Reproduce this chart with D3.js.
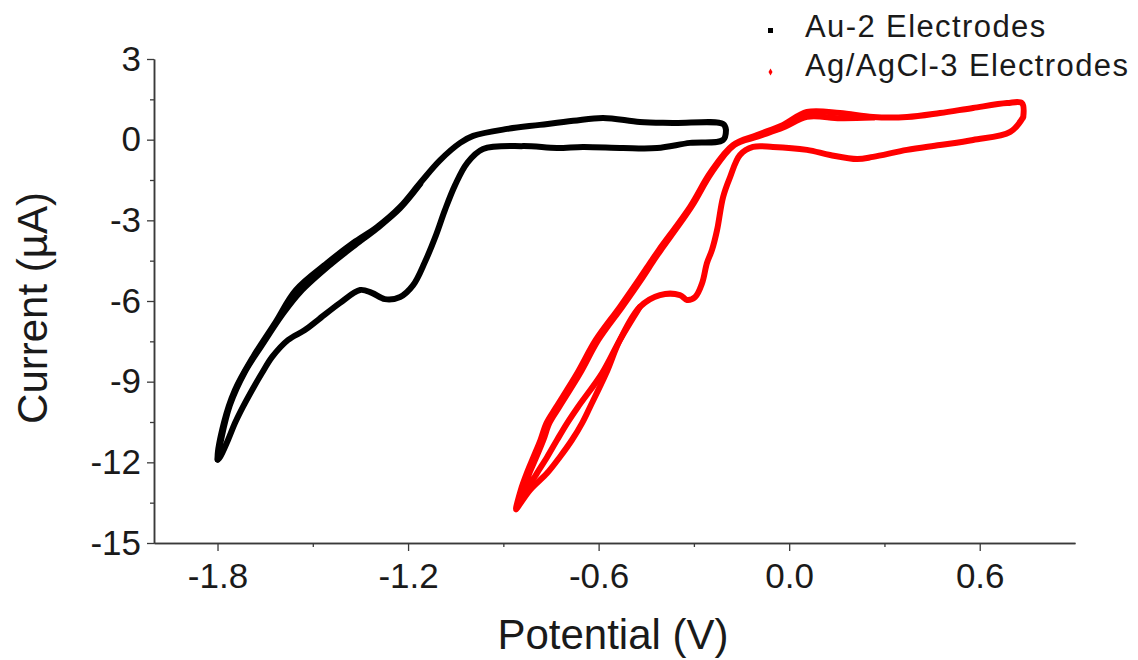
<!DOCTYPE html>
<html>
<head>
<meta charset="utf-8">
<script src="https://cdn.jsdelivr.net/npm/d3@7"></script>
<style>
  body { margin: 0; background: #fff; }
  svg { display: block; }
  text { font-family: "Liberation Sans", Arial, sans-serif; fill: #1a1a1a; }
</style>
</head>
<body>
<svg id="chart" width="1138" height="660"></svg>
<script>
// ---------------- data ----------------
const xTicks = [-1.8, -1.2, -0.6, 0.0, 0.6];
const xMinorTicks = [-1.5, -0.9, -0.3, 0.3];
const yTicks = [3, 0, -3, -6, -9, -12, -15];
const yMinorTicks = [1.5, -1.5, -4.5, -7.5, -10.5, -13.5];
const xDomain = [-2.0, 0.9];
const yDomain = [-15, 3];
const xTitle = "Potential (V)";
const yTitle = "Current (\u00B5A)";
const seriesNames = ["Au-2 Electrodes", "Ag/AgCl-3 Electrodes"];
const seriesColors = ["#000000", "#ff0000"];

// Au-2 electrodes, cycle 1 (potential V, current µA)
const au1V = [-0.199, -0.208, -0.312, -0.416, -0.523, -0.649, -0.731, -0.838, -0.964, -1.014, -1.052, -1.084, -1.112, -1.147, -1.184, -1.225, -1.273, -1.314, -1.351, -1.414, -1.484, -1.525, -1.578, -1.628, -1.660, -1.691, -1.720, -1.745, -1.767, -1.792, -1.800,
              -1.780, -1.745, -1.688, -1.619, -1.553, -1.455, -1.373, -1.298, -1.225, -1.162, -1.099, -1.036, -0.995, -0.888, -0.785, -0.680, -0.586, -0.470, -0.366, -0.208, -0.199];
const au1I = [0.36, -0.01, -0.12, -0.31, -0.31, -0.27, -0.31, -0.24, -0.35, -0.87, -1.69, -2.62, -3.55, -4.55, -5.41, -5.85, -5.93, -5.70, -5.59, -6.07, -6.71, -7.08, -7.45, -8.08, -8.68, -9.31, -9.94, -10.54, -11.17, -11.80, -11.90,
              -10.54, -9.31, -8.08, -6.82, -5.59, -4.59, -3.84, -3.25, -2.50, -1.61, -0.76, -0.12, 0.14, 0.40, 0.55, 0.70, 0.81, 0.66, 0.62, 0.58, 0.36];
// Au-2 electrodes, cycle 2 (overlapping return branch)
const au2V = [-1.800, -1.789, -1.761, -1.714, -1.660, -1.597, -1.540, -1.446, -1.367, -1.298, -1.225, -1.162];
const au2I = [-11.90, -11.17, -9.87, -8.64, -7.64, -6.52, -5.67, -4.66, -3.92, -3.30, -2.55, -1.65];

// Ag/AgCl-3 electrodes, cycle 1
const ag1V = [0.737, 0.696, 0.579, 0.475, 0.371, 0.264, 0.214, 0.129, 0.056, -0.051, -0.114, -0.155, -0.186, -0.208, -0.227, -0.243, -0.259, -0.274, -0.296, -0.322, -0.344, -0.407, -0.470, -0.533, -0.576, -0.627, -0.652, -0.684, -0.722, -0.762, -0.816, -0.854, -0.860,
              -0.845, -0.826, -0.805, -0.783, -0.764, -0.733, -0.667, -0.609, -0.533, -0.474, -0.432, -0.410, -0.312, -0.249, -0.177, -0.101, -0.019, 0.056, 0.160, 0.264, 0.371, 0.475, 0.579, 0.686, 0.733, 0.737];
const ag1I = [0.84, 0.29, -0.01, -0.20, -0.38, -0.64, -0.72, -0.57, -0.38, -0.27, -0.27, -0.57, -1.39, -2.13, -3.36, -4.10, -4.59, -5.33, -5.85, -5.96, -5.78, -5.78, -6.22, -7.45, -8.68, -9.94, -10.54, -11.17, -11.80, -12.40, -13.03, -13.66, -13.75,
              -13.03, -12.40, -11.80, -11.17, -10.54, -9.94, -8.68, -7.45, -6.22, -5.22, -4.48, -4.10, -2.50, -1.24, -0.20, 0.17, 0.55, 1.03, 0.99, 0.84, 0.84, 0.99, 1.18, 1.36, 1.36, 0.84];
// Ag/AgCl-3 electrodes, cycle 2
const ag2V = [-0.470, -0.533, -0.589, -0.665, -0.699, -0.731, -0.762, -0.794, -0.830, -0.850,
              -0.837, -0.818, -0.796, -0.774, -0.755, -0.724, -0.658, -0.601, -0.526, -0.467, -0.426, -0.404, -0.308, -0.245, -0.173, -0.098, -0.019, 0.056, 0.160, 0.264];
const ag2I = [-6.22, -7.45, -8.68, -9.94, -10.54, -11.17, -11.80, -12.40, -13.10, -13.55,
              -13.03, -12.40, -11.80, -11.17, -10.54, -9.94, -8.68, -7.45, -6.22, -5.22, -4.48, -4.10, -2.50, -1.24, -0.20, 0.12, 0.45, 0.85, 0.80, 0.82];

// ---------------- layout ----------------
const svg = d3.select("#chart");
const plot = { left: 154, right: 1075, top: 59, bottom: 543 };

const x = d3.scaleLinear().domain(xDomain).range([plot.left, plot.right]);
const y = d3.scaleLinear().domain(yDomain).range([plot.bottom, plot.top]);

const axisColor = "#3a3a3a";

// curves
const line = d3.line()
  .x(d => x(d[0]))
  .y(d => y(d[1]))
  .curve(d3.curveCatmullRom.alpha(0.5));

const curves = [
  { v: au2V, i: au2I, c: 0 },
  { v: au1V, i: au1I, c: 0 },
  { v: ag2V, i: ag2I, c: 1 },
  { v: ag1V, i: ag1I, c: 1 }
];
svg.append("g").selectAll("path")
  .data(curves)
  .join("path")
  .attr("d", d => line(d.v.map((v, k) => [v, d.i[k]])))
  .attr("fill", "none")
  .attr("stroke", d => seriesColors[d.c])
  .attr("stroke-width", 6)
  .attr("stroke-linejoin", "round")
  .attr("stroke-linecap", "round");

// axes
const fmtX = d => d.toFixed(1);
const fmtY = d => String(d);

const gx = svg.append("g").attr("transform", `translate(0,${plot.bottom})`);
gx.call(d3.axisBottom(x).tickValues(xTicks).tickFormat(fmtX).tickSize(8).tickPadding(12).tickSizeOuter(0));
gx.append("g").call(d3.axisBottom(x).tickValues(xMinorTicks).tickFormat("").tickSize(4).tickSizeOuter(0));

const gy = svg.append("g").attr("transform", `translate(${plot.left},0)`);
gy.call(d3.axisLeft(y).tickValues(yTicks).tickFormat(fmtY).tickSize(7).tickPadding(6).tickSizeOuter(0));
gy.append("g").call(d3.axisLeft(y).tickValues(yMinorTicks).tickFormat("").tickSize(4).tickSizeOuter(0));

svg.selectAll(".domain").attr("stroke", axisColor).attr("stroke-width", 1.5);
svg.selectAll(".tick line").attr("stroke", axisColor).attr("stroke-width", 1.3);
svg.selectAll(".tick text")
  .attr("fill", "#1a1a1a")
  .style("font-family", "'Liberation Sans', Arial, sans-serif")
  .style("font-size", "35px");

// axis titles
svg.append("text")
  .attr("x", 613).attr("y", 649)
  .attr("text-anchor", "middle")
  .style("font-size", "42px")
  .text(xTitle);

svg.append("text")
  .attr("transform", "translate(47,308) rotate(-90)")
  .attr("text-anchor", "middle")
  .style("font-size", "42px")
  .text(yTitle);

// legend
const legend = svg.append("g");
const legY = [37, 76];
legend.append("rect")
  .attr("x", 768).attr("y", 28).attr("width", 5).attr("height", 5)
  .attr("fill", seriesColors[0]);
legend.append("path")
  .attr("d", d3.symbol().type(d3.symbolDiamond).size(14)())
  .attr("transform", "translate(770.5,72)")
  .attr("fill", seriesColors[1]);
legend.selectAll("text.leg")
  .data(seriesNames)
  .join("text")
  .attr("class", "leg")
  .attr("x", 805)
  .attr("y", (d, k) => legY[k])
  .style("font-size", "31px")
  .style("letter-spacing", "1.4px")
  .text(d => d);
</script>
</body>
</html>
